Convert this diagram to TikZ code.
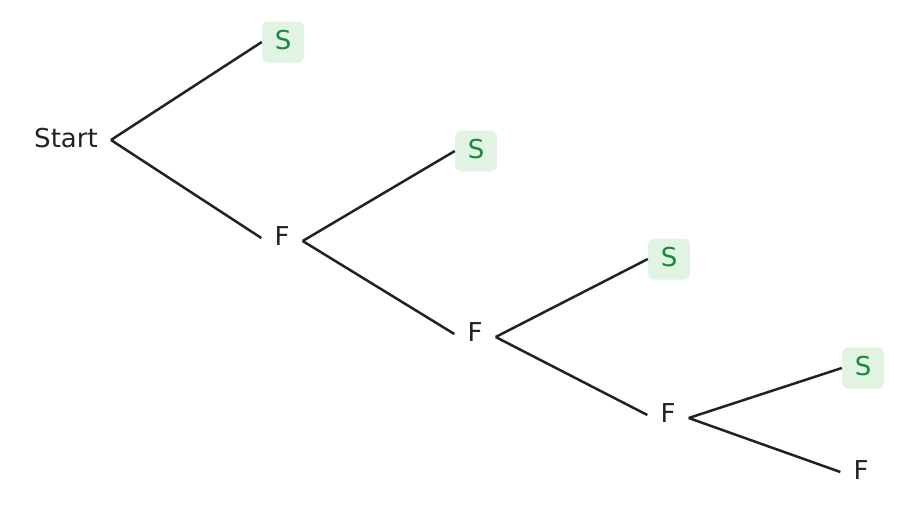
\documentclass[tikz,border=0pt]{standalone}
\usepackage{fontspec}
\setmainfont{DejaVu Sans}
\definecolor{inkgray}{HTML}{222222}
\definecolor{okgreen}{HTML}{17893A}
\definecolor{okfill}{HTML}{E1F4E4}
\tikzset{
  edge/.style={draw=inkgray,line width=2.5pt},
  fail/.style={text=inkgray,inner xsep=13pt,inner ysep=0pt,text height=18pt,text depth=3pt},
  succ/.style={text=okgreen,fill=okfill,rounded corners=6pt,inner xsep=0pt,inner ysep=0pt,
    minimum width=42pt,minimum height=41pt,text height=18pt,text depth=3pt}
}
\begin{document}
\begin{tikzpicture}[x=1pt,y=-1pt,font=\fontsize{26}{31}\selectfont]
            \useasboundingbox (0,0) rectangle (905,514);
            \node (start) at (66,140) [fail] {Start};
            \node (succ1) at (283,42) [succ] {S};
            \node (fail1) at (282,238) [fail] {F};
            \node (succ2) at (476,151) [succ] {S};
            \node (fail2) at (475,334) [fail] {F};
            \node (succ3) at (669,259) [succ] {S};
            \node (fail3) at (668,415) [fail] {F};
            \node (succ4) at (863,368) [succ] {S};
            \node (fail4) at (861,472) [fail] {F};
            \draw[edge] (start.east)--(succ1.west);
            \draw[edge] (start.east)--(fail1.west);
            \draw[edge] ([yshift=-3pt]fail1.east)--(succ2.west);
            \draw[edge] ([yshift=-3pt]fail1.east)--(fail2.west);
            \draw[edge] ([yshift=-3pt]fail2.east)--(succ3.west);
            \draw[edge] ([yshift=-3pt]fail2.east)--(fail3.west);
            \draw[edge] ([yshift=-3pt]fail3.east)--(succ4.west);
            \draw[edge] ([yshift=-3pt]fail3.east)--(fail4.west);
        \end{tikzpicture}
\end{document}
